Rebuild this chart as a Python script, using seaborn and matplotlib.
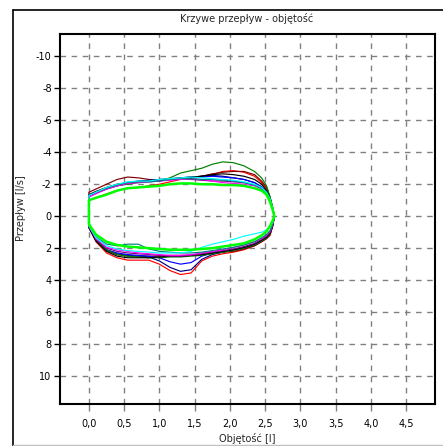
import matplotlib
matplotlib.use("Agg")
import matplotlib.pyplot as plt
from matplotlib.lines import Line2D
import seaborn as sns

# volume grid shared by all loops [l]
volume = [0.0, 0.0, 0.1, 0.25, 0.4, 0.55, 0.7, 0.85, 1.0, 1.15, 1.3, 1.45,
          1.6, 1.75, 1.9, 2.05, 2.2, 2.35, 2.45, 2.52, 2.57, 2.61, 2.63]

# expiration (negative flow, drawn on top because the y axis is inverted)
exp_blue = [0, -1.3, -1.5, -1.75, -1.95, -2.1, -2.15, -2.2, -2.25, -2.3, -2.35, -2.4, -2.45, -2.5, -2.45, -2.4, -2.3, -2.1, -1.8, -1.5, -1.0, -0.4, 0]
exp_dkgreen = [0, -1.3, -1.45, -1.7, -1.9, -2.0, -2.1, -2.15, -2.2, -2.4, -2.7, -2.85, -3.0, -3.25, -3.4, -3.35, -3.15, -2.8, -2.4, -1.9, -1.2, -0.5, 0]
exp_red = [0, -1.0, -1.15, -1.4, -1.6, -1.75, -1.8, -1.9, -2.0, -2.15, -2.3, -2.4, -2.5, -2.6, -2.8, -2.85, -2.75, -2.5, -2.1, -1.7, -1.1, -0.45, 0]
exp_dkred = [0, -1.5, -1.7, -2.0, -2.3, -2.45, -2.4, -2.3, -2.25, -2.3, -2.35, -2.4, -2.5, -2.65, -2.75, -2.8, -2.8, -2.6, -2.2, -1.8, -1.2, -0.5, 0]
exp_lime = [0, -1.0, -1.15, -1.35, -1.6, -1.75, -1.8, -1.85, -1.9, -2.0, -2.05, -2.05, -2.0, -2.0, -1.95, -1.95, -1.9, -1.75, -1.6, -1.35, -0.9, -0.35, 0]
exp_cyan = [0, -1.3, -1.5, -1.8, -2.0, -2.15, -2.2, -2.2, -2.3, -2.35, -2.4, -2.45, -2.4, -2.35, -2.3, -2.25, -2.15, -2.0, -1.8, -1.5, -1.1, -0.5, 0]
exp_magenta = [0, -1.2, -1.4, -1.7, -1.9, -2.05, -2.1, -2.15, -2.2, -2.25, -2.3, -2.35, -2.3, -2.2, -2.1, -2.05, -2.0, -1.9, -1.7, -1.4, -0.9, -0.4, 0]
exp_purple = [0, -1.25, -1.45, -1.7, -1.9, -2.05, -2.15, -2.2, -2.2, -2.3, -2.35, -2.3, -2.25, -2.2, -2.2, -2.15, -2.1, -1.95, -1.75, -1.45, -1.0, -0.4, 0]
exp_navy = [0, -1.3, -1.5, -1.75, -1.95, -2.1, -2.2, -2.25, -2.3, -2.35, -2.4, -2.45, -2.5, -2.55, -2.5, -2.4, -2.3, -2.1, -1.85, -1.5, -1.0, -0.4, 0]
exp_black = [0, -1.35, -1.55, -1.8, -2.0, -2.1, -2.15, -2.2, -2.25, -2.3, -2.4, -2.45, -2.5, -2.6, -2.65, -2.6, -2.5, -2.3, -2.0, -1.6, -1.1, -0.45, 0]
exp_teal = [0, -1.3, -1.5, -1.75, -1.95, -2.1, -2.15, -2.15, -2.2, -2.3, -2.35, -2.35, -2.3, -2.3, -2.25, -2.2, -2.1, -1.95, -1.75, -1.45, -1.0, -0.4, 0]

# inspiration (positive flow, bottom half)
ins_blue = [0, 0.7, 1.5, 2.1, 2.3, 2.4, 2.45, 2.5, 2.6, 2.85, 3.0, 2.9, 2.5, 2.3, 2.2, 2.1, 1.95, 1.75, 1.5, 1.3, 1.05, 0.5, 0]
ins_dkgreen = [0, 0.65, 1.5, 2.1, 2.4, 2.5, 2.55, 2.6, 2.6, 2.55, 2.55, 2.5, 2.45, 2.35, 2.25, 2.15, 2.0, 1.8, 1.55, 1.35, 1.1, 0.5, 0]
ins_red = [0, 0.7, 1.6, 2.3, 2.6, 2.75, 2.75, 2.75, 3.0, 3.4, 3.65, 3.55, 2.8, 2.5, 2.35, 2.25, 2.1, 1.85, 1.6, 1.4, 1.2, 0.6, 0]
ins_dkred = [0, 0.7, 1.5, 2.15, 2.4, 2.5, 2.5, 2.5, 2.5, 2.45, 2.45, 2.45, 2.4, 2.35, 2.25, 2.2, 2.05, 1.85, 1.6, 1.4, 1.15, 0.55, 0]
ins_lime = [0, 0.5, 1.15, 1.6, 1.8, 1.9, 1.95, 2.0, 2.05, 2.1, 2.1, 2.1, 2.05, 2.0, 1.9, 1.8, 1.7, 1.45, 1.2, 0.95, 0.6, 0.25, 0]
ins_cyan = [0, 0.6, 1.35, 1.85, 2.05, 2.15, 2.2, 2.25, 2.3, 2.3, 2.3, 2.2, 1.95, 1.75, 1.6, 1.45, 1.25, 1.1, 1.0, 0.85, 0.7, 0.35, 0]
ins_magenta = [0, 0.6, 1.4, 1.95, 2.1, 2.2, 2.3, 2.35, 2.4, 2.45, 2.45, 2.4, 2.3, 2.2, 2.1, 1.95, 1.8, 1.6, 1.4, 1.2, 0.95, 0.45, 0]
ins_purple = [0, 0.65, 1.45, 2.0, 2.2, 2.3, 2.35, 2.4, 2.45, 2.5, 2.5, 2.45, 2.35, 2.25, 2.15, 2.05, 1.9, 1.7, 1.45, 1.25, 1.0, 0.5, 0]
ins_navy = [0, 0.7, 1.5, 2.1, 2.35, 2.45, 2.5, 2.55, 2.8, 3.2, 3.45, 3.35, 2.7, 2.4, 2.25, 2.1, 2.0, 1.8, 1.55, 1.35, 1.1, 0.55, 0]
ins_black = [0, 0.7, 1.55, 2.2, 2.5, 2.6, 2.6, 2.6, 2.55, 2.5, 2.5, 2.45, 2.4, 2.3, 2.2, 2.1, 1.95, 1.75, 1.5, 1.3, 1.05, 0.5, 0]
ins_teal = [0, 0.6, 1.3, 1.75, 1.85, 1.75, 1.75, 2.05, 2.2, 2.25, 2.3, 2.3, 2.25, 2.15, 2.05, 1.95, 1.8, 1.6, 1.35, 1.15, 0.9, 0.45, 0]

curves = [
    ("#ff0000", exp_red, ins_red),
    ("#800000", exp_dkred, ins_dkred),
    ("#000080", exp_navy, ins_navy),
    ("#0000ff", exp_blue, ins_blue),
    ("#008000", exp_dkgreen, ins_dkgreen),
    ("#000000", exp_black, ins_black),
    ("#800080", exp_purple, ins_purple),
    ("#ff00ff", exp_magenta, ins_magenta),
    ("#008080", exp_teal, ins_teal),
    ("#00ffff", exp_cyan, ins_cyan),
    ("#00ff00", exp_lime, ins_lime),
]

x_ticks = [0.0, 0.5, 1.0, 1.5, 2.0, 2.5, 3.0, 3.5, 4.0, 4.5]
x_labels = ["0,0", "0,5", "1,0", "1,5", "2,0", "2,5", "3,0", "3,5", "4,0", "4,5"]
y_ticks = [-10, -8, -6, -4, -2, 0, 2, 4, 6, 8, 10]
y_labels = ["-10", "-8", "-6", "-4", "-2", "0", "2", "4", "6", "8", "10"]

sns.set_style("white")
plt.rcParams['font.family'] = ['DejaVu Sans']

fig = plt.figure(figsize=(4.43, 4.46), dpi=100)
ax = fig.add_axes([60 / 443, 1 - 404 / 446, 375 / 443, 370 / 446])

for color, exp_flow, ins_flow in curves:
    xs = volume + volume[::-1]
    ys = exp_flow + ins_flow[::-1]
    lw = 1.8 if color == "#00ff00" else 0.85
    sns.lineplot(x=xs, y=ys, sort=False, estimator=None, color=color, lw=lw, ax=ax)

ax.set_xlim(-0.41, 4.91)
ax.set_ylim(11.75, -11.4)
ax.set_xticks(x_ticks)
ax.set_xticklabels(x_labels)
ax.set_yticks(y_ticks)
ax.set_yticklabels(y_labels)
ax.grid(True, color="#808080", linestyle=(0, (4, 4)), lw=1)
ax.set_axisbelow(True)
for s in ax.spines.values():
    s.set_color("black")
    s.set_linewidth(1.5)
ax.tick_params(axis="x", direction="out", length=5, color="#808080", width=1,
               labelsize=7, pad=6, labelcolor="black", bottom=True)
ax.tick_params(axis="y", direction="out", length=4, color="black", width=1,
               labelsize=7, pad=2, labelcolor="black", left=True)
ax.set_xlabel("")
ax.set_ylabel("")

fig.text(247 / 443, 1 - 18 / 446, "Krzywe przepływ - objętość", ha="center", va="center",
         fontsize=7)
fig.text(247 / 443, 1 - 439 / 446, "Objętość [l]", ha="center", va="center",
         fontsize=7)
fig.text(21 / 443, 1 - 208 / 446, "Przepływ [l/s]", ha="center", va="center",
         fontsize=7, rotation=90)

# outer panel frame
fig.add_artist(Line2D([13 / 443, 13 / 443], [0, 1 - 10 / 446], color="black", lw=1.2,
                      transform=fig.transFigure))
fig.add_artist(Line2D([13 / 443, 1], [1 - 10 / 446, 1 - 10 / 446], color="black", lw=1.2,
                      transform=fig.transFigure))
fig.add_artist(Line2D([13 / 443, 1], [1 - 445 / 446, 1 - 445 / 446], color="#c0c0c0", lw=1,
                      transform=fig.transFigure))

fig.savefig("out.png", dpi=100)
